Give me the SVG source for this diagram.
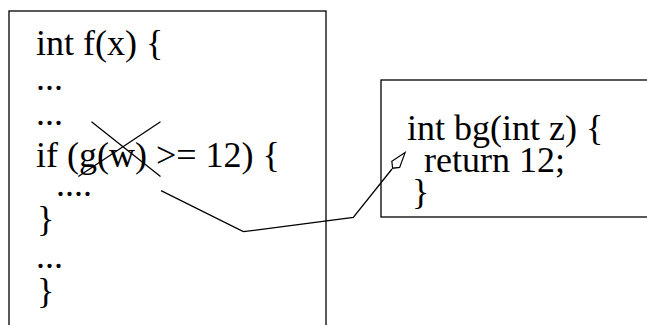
<svg xmlns="http://www.w3.org/2000/svg" width="647" height="325" viewBox="0 0 647 325">
<style>
.box{fill:#fff;stroke:#000;stroke-width:1.3}
.code{font-family:"Liberation Serif","Times New Roman",serif;font-size:36px;fill:#000}
.ln{fill:none;stroke:#000;stroke-width:1.3}
</style>
<defs>
<marker id="diamond" markerUnits="userSpaceOnUse" markerWidth="24" markerHeight="14" refX="0" refY="6" orient="auto" viewBox="0 0 24 12">
<path d="M1,6 L6,1 L21,6 L6,11 Z" fill="#fff" stroke="#000" stroke-width="1.2"/>
</marker>
</defs>
<rect width="647" height="325" fill="#fff"/>
<g id="node-f">
<rect class="box" x="9" y="11" width="317" height="330"/>
<text class="code" x="36" y="55">int f(x) {</text>
<text class="code" x="36" y="90">...</text>
<text class="code" x="36" y="125">...</text>
<text class="code" x="36" y="167">if (g(w) &gt;= 12) {</text>
<text class="code" x="56" y="196">....</text>
<text class="code" x="37" y="231">}</text>
<text class="code" x="36" y="268">...</text>
<text class="code" x="37" y="303">}</text>
<path class="ln" d="M91.5,121.7 L160.5,176.5 M78.3,176.5 L160.5,121.7"/>
</g>
<g id="node-bg">
<rect class="box" x="381" y="80" width="300" height="137"/>
<text class="code" x="407" y="140">int bg(int z) {</text>
<text class="code" x="424" y="172">return 12;</text>
<text class="code" x="412" y="204">}</text>
</g>
<g id="connectors">
<polyline class="ln" points="161,190.7 243.3,231.7 353.3,217.5 392,169" marker-end="url(#diamond)"/>
</g>
</svg>
